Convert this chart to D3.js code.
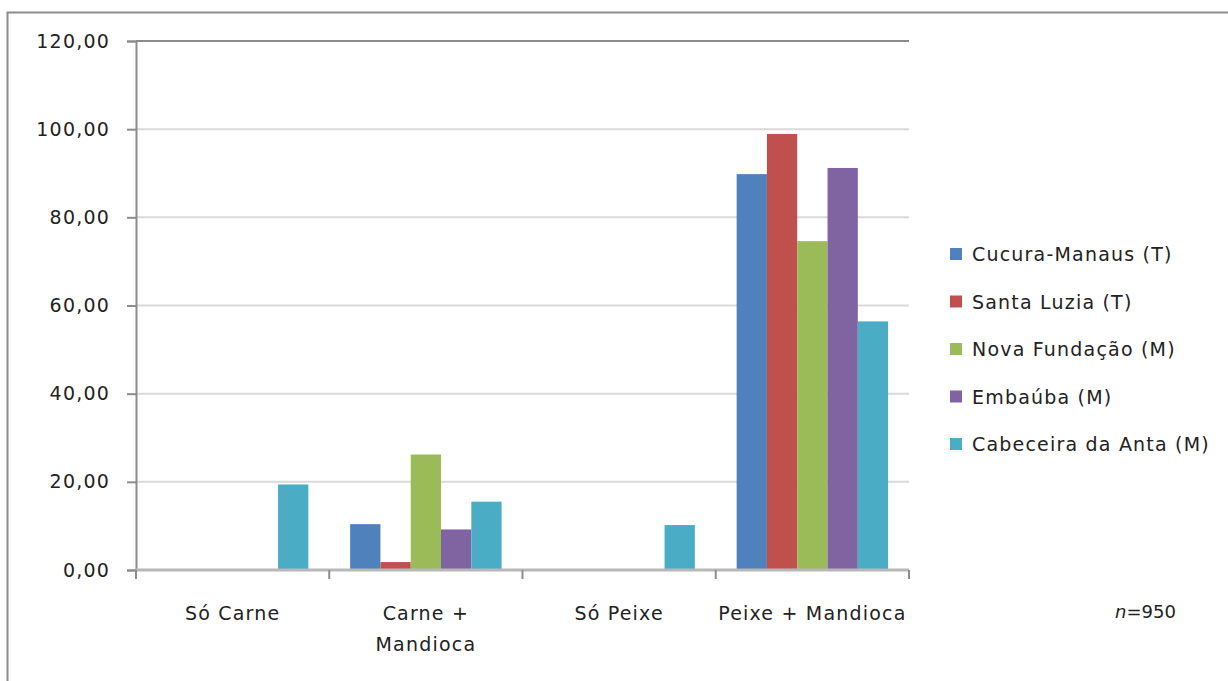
<!DOCTYPE html>
<html>
<head>
<meta charset="utf-8">
<script src="https://cdn.jsdelivr.net/npm/d3@7"></script>
<style>
  body { margin: 0; background: #fff; }
  text { font-family: "DejaVu Sans", sans-serif; fill: #222; }
</style>
</head>
<body>
<script>
// ----- Data -----
const categories = ["Só Carne", "Carne +\nMandioca", "Só Peixe", "Peixe + Mandioca"];
const seriesNames = ["Cucura-Manaus (T)", "Santa Luzia (T)", "Nova Fundação (M)", "Embaúba (M)", "Cabeceira da Anta (M)"];
const cucuraManaus = [0, 10.4, 0, 89.8];
const santaLuzia = [0, 1.8, 0, 98.9];
const novaFundacao = [0, 26.2, 0, 74.6];
const embauba = [0, 9.2, 0, 91.2];
const cabeceiraAnta = [19.4, 15.5, 10.2, 56.4];
const yTicks = [0, 20, 40, 60, 80, 100, 120];
const seriesColors = ["#4F81BD", "#C0504D", "#9BBB59", "#8064A2", "#4BACC6"];

const seriesValues = [cucuraManaus, santaLuzia, novaFundacao, embauba, cabeceiraAnta];

// ----- Layout -----
const W = 1228, H = 681;
const PLOT = { left: 136, right: 909, top: 41, bottom: 570 };
const FONT_SIZE = "19px";
const SPACING = "1.2px";

const svg = d3.select("body").append("svg")
    .attr("width", W)
    .attr("height", H);

// outer chart border
svg.append("rect")
    .attr("x", 7.5).attr("y", 12.5)
    .attr("width", W).attr("height", H)
    .attr("fill", "none")
    .attr("stroke", "#8c8c8c")
    .attr("stroke-width", 2);

const x0 = d3.scaleBand()
    .domain(categories)
    .range([PLOT.left, PLOT.right]);

const x1 = d3.scaleBand()
    .domain(seriesNames)
    .range([0, x0.bandwidth()])
    .paddingOuter(0.69);

const y = d3.scaleLinear()
    .domain([0, 120])
    .range([PLOT.bottom, PLOT.top]);

// ----- Gridlines -----
svg.append("g")
    .selectAll("line")
    .data(yTicks.filter(d => d > 0))
    .enter()
    .append("line")
        .attr("x1", PLOT.left).attr("x2", PLOT.right)
        .attr("y1", d => y(d)).attr("y2", d => y(d))
        .attr("stroke", d => d === 120 ? "#8c8c8c" : "#d9d9d9")
        .attr("stroke-width", 2);

// ----- Bars -----
const rows = categories.map((c, i) => seriesNames.map((s, j) => ({ cat: c, series: s, value: seriesValues[j][i], color: seriesColors[j] })));

svg.append("g")
    .selectAll("g")
    .data(rows)
    .enter()
    .append("g")
        .attr("transform", d => `translate(${x0(d[0].cat)},0)`)
    .selectAll("rect")
    .data(d => d.filter(v => v.value > 0))
    .enter()
    .append("rect")
        .attr("x", d => x1(d.series))
        .attr("width", x1.bandwidth())
        .attr("y", d => y(d.value))
        .attr("height", d => y(0) - y(d.value))
        .attr("fill", d => d.color);

// ----- Axes -----
const yAxis = d3.axisLeft(y)
    .tickValues(yTicks)
    .tickSize(9)
    .tickPadding(17)
    .tickFormat(d => d3.format(".2f")(d).replace(".", ","));

const yAxisG = svg.append("g")
    .attr("transform", `translate(${PLOT.left},0)`)
    .call(yAxis);
yAxisG.attr("font-family", null).attr("font-size", null);
yAxisG.select(".domain").attr("stroke", "#8c8c8c").attr("stroke-width", 2);
yAxisG.selectAll(".tick line").attr("stroke", "#8c8c8c").attr("stroke-width", 2);
yAxisG.selectAll(".tick text")
    .style("font-size", FONT_SIZE)
    .style("letter-spacing", SPACING)
    .attr("fill", "#222");

const xAxisG = svg.append("g")
    .attr("transform", `translate(0,${PLOT.bottom})`);
xAxisG.append("line")
    .attr("x1", PLOT.left).attr("x2", PLOT.right)
    .attr("stroke", "#b8b8b8").attr("stroke-width", 3);
xAxisG.selectAll(".xtick")
    .data(categories.map(c => x0(c)).concat([PLOT.right]))
    .enter()
    .append("line")
        .attr("x1", d => d).attr("x2", d => d)
        .attr("y1", 0).attr("y2", 9)
        .attr("stroke", "#8c8c8c").attr("stroke-width", 2);

xAxisG.selectAll(".xlabel")
    .data(categories)
    .enter()
    .append("text")
        .attr("text-anchor", "middle")
        .style("font-size", FONT_SIZE)
        .style("letter-spacing", SPACING)
        .each(function(d) {
            const t = d3.select(this);
            d.split("\n").forEach((line, i) => {
                t.append("tspan")
                    .attr("x", x0(d) + x0.bandwidth() / 2)
                    .attr("y", 50 + i * 31)
                    .text(line);
            });
        });

// ----- n label -----
const nLabel = svg.append("text")
    .attr("x", 1115).attr("y", 618)
    .style("font-size", "18px");
nLabel.append("tspan").style("font-style", "italic").text("n");
nLabel.append("tspan").text("=950");

// ----- Legend -----
const legend = svg.append("g")
    .attr("transform", "translate(950,254)");
const legendItems = legend.selectAll("g")
    .data(seriesNames)
    .enter()
    .append("g")
        .attr("transform", (d, i) => `translate(0,${i * 47.5})`);
legendItems.append("rect")
    .attr("x", 0).attr("y", -6)
    .attr("width", 12).attr("height", 12)
    .attr("fill", (d, i) => seriesColors[i]);
legendItems.append("text")
    .attr("x", 22).attr("y", 7)
    .style("font-size", FONT_SIZE)
    .style("letter-spacing", SPACING)
    .text(d => d);
</script>
</body>
</html>
